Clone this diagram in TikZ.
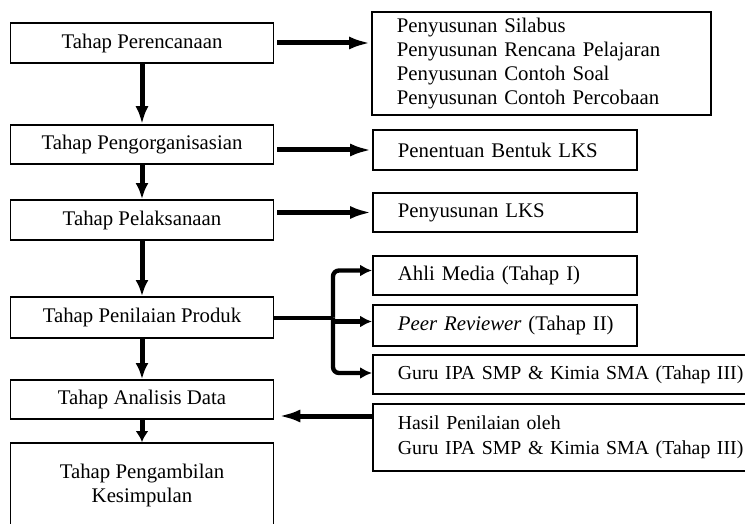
\documentclass[tikz,border=0pt]{standalone}
\usepackage{fontspec}
\setmainfont{Liberation Serif}
\usetikzlibrary{arrows.meta}

\begin{document}
\begin{tikzpicture}[x=0.5pt, y=-0.5pt, font=\fontsize{10.4}{12}\selectfont,
  kiri/.style={draw, line width=0.9pt, rectangle, minimum width=131.5pt, minimum height=20pt, inner sep=0pt, align=center},
  kanan/.style={draw, line width=0.9pt, rectangle, anchor=west, minimum height=20pt, inner xsep=12.5pt, inner ysep=0pt, align=left, text width=#1},
  kanan/.default=107pt,
  tebal/.style={line width=2.5pt, -{Latex[length=#1, width=6.5pt]}},
  tebal/.default=11pt,
  cabang/.style={line width=2.2pt, -{Latex[length=6pt, width=6pt]}}]
\useasboundingbox (0,0) rectangle (745,524);

% Tahap (kolom kiri)
\node[kiri] (per) at (142,43) {Tahap Perencanaan};
\node[kiri, minimum height=19.5pt] (org) at (142,144.5) {Tahap Pengorganisasian};
\node[kiri] (pel) at (142,220) {Tahap Pelaksanaan};
\node[kiri, minimum height=20.5pt] (pen) at (142,317.5) {Tahap Penilaian Produk};
\node[kiri, minimum height=19.5pt] (ana) at (142,399.5) {Tahap Analisis Data};
\node[kiri, minimum height=42pt] (kes) at (142,485) {Tahap Pengambilan\\Kesimpulan};

% Kegiatan (kolom kanan)
\node[kanan=144.5pt, minimum height=51.5pt] (silabus) at (371,63.5) {Penyusunan Silabus\\Penyusunan Rencana Pelajaran\\Penyusunan Contoh Soal\\Penyusunan Contoh Percobaan};
\node[kanan] (bentuk) at (372,150) {Penentuan Bentuk LKS};
\node[kanan, minimum height=19.5pt] (lks) at (372,212.5) {Penyusunan LKS};
\node[kanan, minimum height=19.5pt] (ahli) at (372,275.5) {Ahli Media (Tahap I)};
\node[kanan, minimum height=20.5pt] (peer) at (372,325.5) {\mbox{\textit{Peer Reviewer} (Tahap II)}};
\node[kanan=190pt, minimum height=19.5pt, font=\fontsize{9.9}{12}\selectfont] (guru) at (372,374.5) {Guru IPA SMP \& Kimia SMA (Tahap III)};
\node[kanan=190pt, minimum height=33.5pt, font=\fontsize{9.9}{12.5}\selectfont] (hasil) at (372,437.5) {Hasil Penilaian oleh\\Guru IPA SMP \& Kimia SMA (Tahap III)};

% Alur ke bawah
\draw[tebal=9pt] (per.south) -- (org.north);
\draw[tebal=8pt] (org.south) -- (pel.north);
\draw[tebal=8pt] (pel.south) -- (pen.north);
\draw[tebal=8pt] (pen.south) -- (ana.north);
\draw[tebal=5.5pt] (ana.south) -- (kes.north);

% Alur ke kanan
\draw[tebal, shorten <=1.5pt] (per.east) -- (per.east -| silabus.west);
\draw[tebal, shorten <=1.5pt] (bentuk.west -| org.east) -- (bentuk.west);
\draw[tebal, shorten <=1.5pt] (lks.west -| pel.east) -- (lks.west);

% Cabang penilaian
\coordinate (simpul) at (333,317.5);
\draw[line width=2pt] (pen.east) -- (simpul);
\draw[cabang, rounded corners=3pt] (simpul) |- ([yshift=2.5pt]ahli.west);
\draw[cabang] (simpul) |- ([yshift=2pt]peer.west);
\draw[cabang, rounded corners=3pt] (simpul) |- ([yshift=0.75pt]guru.west);

% Hasil ke analisis
\coordinate (hasilkiri) at ([yshift=10.75pt]hasil.west);
\draw[tebal, shorten >=2pt] (hasilkiri) -- (hasilkiri -| ana.east);
\end{tikzpicture}
\end{document}
